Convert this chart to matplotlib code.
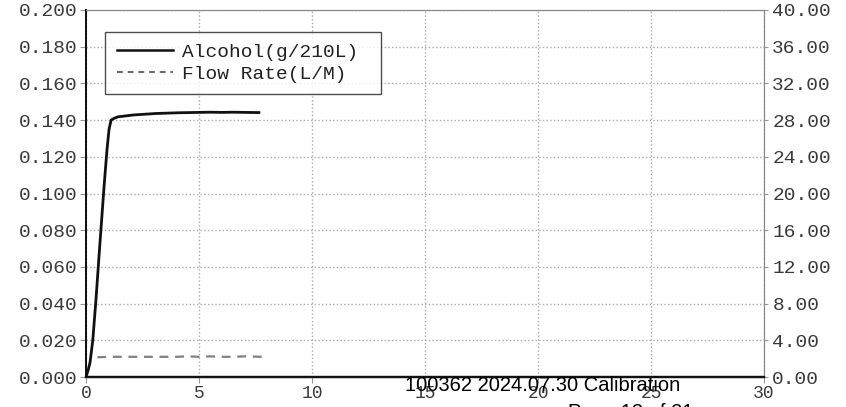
import numpy as np
from matplotlib import pyplot as plt
from matplotlib.lines import Line2D

# breath test trace
time_s = [0.0, 0.1, 0.18, 0.3, 0.44, 0.6, 0.8, 0.93, 1.02, 1.11, 1.25, 1.42,
          1.7, 2.1, 2.6, 3.1, 3.6, 4.1, 4.6, 5.0, 5.5, 6.0, 6.5, 7.0, 7.65]
alcohol = [0.000, 0.004, 0.008, 0.020, 0.042, 0.070, 0.104, 0.124, 0.135, 0.140,
           0.1410, 0.1418, 0.1422, 0.1428, 0.1432, 0.1436, 0.1438, 0.1440, 0.1441,
           0.1442, 0.1443, 0.1442, 0.1443, 0.1442, 0.1441]

flow_time = [0.5, 1.0, 1.5, 2.0, 2.5, 3.0, 3.5, 4.0, 4.5, 5.0, 5.5, 6.0, 6.5, 7.0, 7.8]
flow_rate = [2.15, 2.2, 2.2, 2.2, 2.2, 2.2, 2.2, 2.2, 2.25, 2.2, 2.25, 2.2, 2.2, 2.25, 2.2]

left_ticks = np.arange(0, 0.201, 0.02)
right_ticks = np.arange(0, 40.01, 4)
x_ticks = [0, 5, 10, 15, 20, 25, 30]

MONO = 'Liberation Mono'
TXT = '#3a3a3a'

fig = plt.figure(figsize=(8.46, 4.07), dpi=100)
ax = fig.add_axes([86/846., 1 - 377/407., (764 - 86)/846., (377 - 10)/407.])
ax2 = ax.twinx()

ax.plot(time_s, alcohol, color='#111111', lw=2.0, zorder=5)
ax2.plot(flow_time, flow_rate, color='#808080', lw=1.6, ls=(0, (4, 3)), zorder=4)

ax.set_xlim(0, 30)
ax.set_ylim(0, 0.2)
ax2.set_ylim(0, 40)

ax.set_xticks(x_ticks)
ax.set_xticklabels([str(t) for t in x_ticks], family=MONO, fontsize=13, color=TXT)
ax.set_yticks(left_ticks)
ax.set_yticklabels(['%.3f' % v for v in left_ticks], family=MONO, fontsize=14, color=TXT)
ax2.set_yticks(right_ticks)
ax2.set_yticklabels(['%.2f' % v for v in right_ticks], family=MONO, fontsize=14, color=TXT)

ax.grid(True, color='#aaaaaa', ls=':', lw=1.0)
ax.tick_params(axis='both', length=4, width=0.8, color='#999999', pad=2)
ax2.tick_params(axis='y', length=3, width=0.8, color='#999999', pad=3)

for a in (ax, ax2):
    a.spines['left'].set_color('#111111')
    a.spines['left'].set_linewidth(1.4)
    a.spines['bottom'].set_color('#111111')
    a.spines['bottom'].set_linewidth(1.6)
    a.spines['top'].set_color('#888888')
    a.spines['right'].set_color('#888888')

handles = [Line2D([], [], color='#111111', lw=1.8),
           Line2D([], [], color='#666666', lw=1.4, ls=(0, (3, 2.5)))]
leg = ax.legend(handles, ['Alcohol(g/210L) ', 'Flow Rate(L/M)'],
                loc='upper left', bbox_to_anchor=(0.028, 0.94),
                prop={'family': MONO, 'size': 14}, frameon=True, fancybox=False,
                handlelength=2.9, handletextpad=0.45, borderpad=0.6,
                labelspacing=0.2, borderaxespad=0)
leg.get_frame().set_edgecolor('#222222')
leg.get_frame().set_linewidth(1.0)
for t in leg.get_texts():
    t.set_color('#222222')

# stamp text overlaid on the page
fig.text(405/846., 1 - 391/407., '100362 2024.07.30 Calibration',
         family='Liberation Sans', fontsize=14.5, color='black', zorder=10)
fig.text(693/846., 1 - 418/407., 'Page 12 of 21', ha='right',
         family='Liberation Sans', fontsize=14.5, color='black', zorder=10)

fig.savefig('out.png', dpi=100)
